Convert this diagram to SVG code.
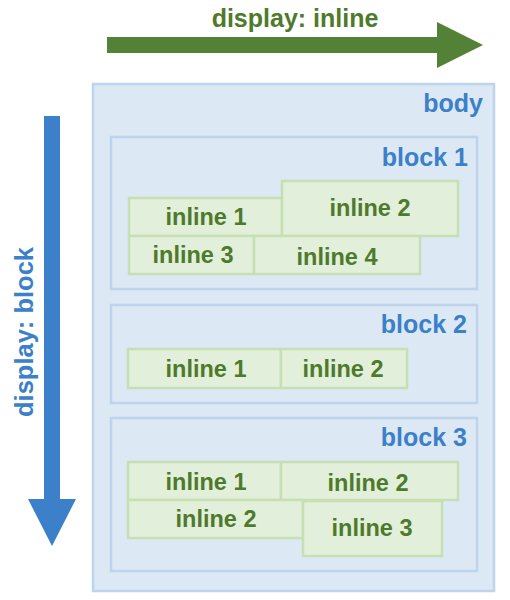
<svg xmlns="http://www.w3.org/2000/svg" width="510" height="600" viewBox="0 0 510 600">
<style>
.box{fill:#dde8f5;stroke:#bdd4ec;stroke-width:2.5}
.inl{fill:#e2efda;stroke:#c6e0b4;stroke-width:2.5}
.bt{font-family:"Liberation Sans",Arial,sans-serif;font-weight:bold;font-size:25px;fill:#3b80c9;text-anchor:end}
.it{font-family:"Liberation Sans",Arial,sans-serif;font-weight:bold;font-size:23.5px;fill:#4e7a2b;text-anchor:middle}
.gt{font-family:"Liberation Sans",Arial,sans-serif;font-weight:bold;font-size:25px;fill:#4e7a2b;text-anchor:middle}
.vt{font-family:"Liberation Sans",Arial,sans-serif;font-weight:bold;font-size:25.5px;fill:#3b80c9;text-anchor:middle}
</style>
<rect width="510" height="600" fill="#ffffff"/>
<g id="connectors">
<polygon id="arrow-inline" points="107,37 437,37 437,22 483,45 437,68 437,53 107,53" fill="#538135"/>
<polygon id="arrow-block" points="44,116 60,116 60,499 76,499 52,546 28,499 44,499" fill="#3b80c9"/>
</g>
<text class="gt" x="295" y="27">display: inline</text>
<text class="vt" transform="translate(33,332) rotate(-90)">display: block</text>
<g id="body">
<rect class="box" x="93" y="84" width="401" height="507"/>
<text class="bt" x="483" y="112">body</text>
</g>
<g id="block1">
<rect class="box" x="111" y="137" width="366" height="152"/>
<text class="bt" x="468" y="166">block 1</text>
<g id="b1-inline1"><rect class="inl" x="129" y="198" width="153" height="38"/><text class="it" x="206" y="225">inline 1</text></g>
<g id="b1-inline2"><rect class="inl" x="282" y="181" width="176" height="55"/><text class="it" x="370" y="216">inline 2</text></g>
<g id="b1-inline3"><rect class="inl" x="129" y="236" width="125" height="38"/><text class="it" x="193" y="263">inline 3</text></g>
<g id="b1-inline4"><rect class="inl" x="254" y="236" width="166" height="38"/><text class="it" x="337" y="265">inline 4</text></g>
</g>
<g id="block2">
<rect class="box" x="111" y="305" width="366" height="98"/>
<text class="bt" x="467" y="333">block 2</text>
<g id="b2-inline1"><rect class="inl" x="128" y="349" width="153" height="39"/><text class="it" x="206" y="377">inline 1</text></g>
<g id="b2-inline2"><rect class="inl" x="281" y="349" width="126" height="39"/><text class="it" x="343" y="377">inline 2</text></g>
</g>
<g id="block3">
<rect class="box" x="111" y="418" width="366" height="153"/>
<text class="bt" x="467" y="446">block 3</text>
<g id="b3-inline1"><rect class="inl" x="128" y="462" width="153" height="38"/><text class="it" x="206" y="490">inline 1</text></g>
<g id="b3-inline2a"><rect class="inl" x="281" y="462" width="177" height="38"/><text class="it" x="368" y="491">inline 2</text></g>
<g id="b3-inline2b"><rect class="inl" x="128" y="500" width="175" height="38"/><text class="it" x="216" y="527">inline 2</text></g>
<g id="b3-inline3"><rect class="inl" x="303" y="501" width="139" height="55"/><text class="it" x="372" y="536">inline 3</text></g>
</g>
</svg>
